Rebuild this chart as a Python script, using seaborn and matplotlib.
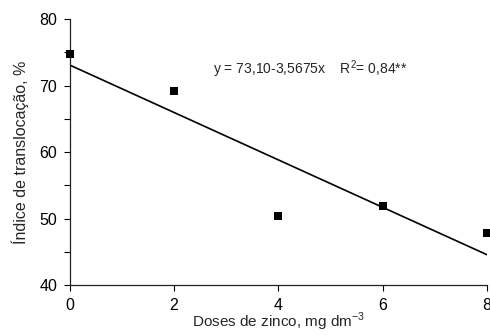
import matplotlib
matplotlib.use("Agg")
import matplotlib.pyplot as plt
import seaborn as sns
import numpy as np
import pandas as pd

doses = [0, 2, 4, 6, 8]
indice = [74.8, 69.2, 50.4, 51.9, 47.8]
intercept = 73.10
slope = -3.5675
eq_text = "y = 73,10-3,5675x    R$^{2}$= 0,84**"

sns.set_style("white")
plt.rcParams['font.family'] = ['Liberation Sans', 'DejaVu Sans']
plt.rcParams['mathtext.fontset'] = 'custom'
plt.rcParams['mathtext.rm'] = 'Liberation Sans'

fig = plt.figure(figsize=(4.9, 3.35), dpi=100)
ax = fig.add_axes([0.142, 0.149, 0.852, 0.794])

df = pd.DataFrame({"x": doses, "y": indice})
fit_x = [min(doses), max(doses)]
fit = pd.DataFrame({"x": fit_x, "y": [intercept + slope * v for v in fit_x]})

sns.lineplot(data=fit, x="x", y="y", ax=ax, color="black", linewidth=1.2)
sns.scatterplot(data=df, x="x", y="y", ax=ax, marker="s", color="black",
                s=36, edgecolor="black", linewidth=0, zorder=3, clip_on=False)

ax.set_xlim(0, 8)
ax.set_ylim(40, 80)
ax.set_xticks([0, 2, 4, 6, 8])
ax.set_yticks([40, 45, 50, 55, 60, 65, 70, 75, 80])
ax.set_yticklabels(["40", "", "50", "", "60", "", "70", "", "80"])
ax.tick_params(axis="both", direction="out", length=4, width=0.8, color="black",
               labelsize=11.5, labelcolor="black", bottom=True, left=True)
ax.tick_params(axis="x", pad=5)
ax.tick_params(axis="y", pad=5)
for s in ["top", "right"]:
    ax.spines[s].set_visible(False)
for s in ["left", "bottom"]:
    ax.spines[s].set_color("#222222")
    ax.spines[s].set_linewidth(0.9)

ax.set_xlabel("Doses de zinco, mg dm$^{-3}$", fontsize=11, labelpad=-1)
ax.set_ylabel("Índice de translocação, %", fontsize=11.5, labelpad=7)
ax.text(2.75, 72.4, eq_text, fontsize=10, va="center", ha="left")

fig.savefig("out.png", dpi=100)
